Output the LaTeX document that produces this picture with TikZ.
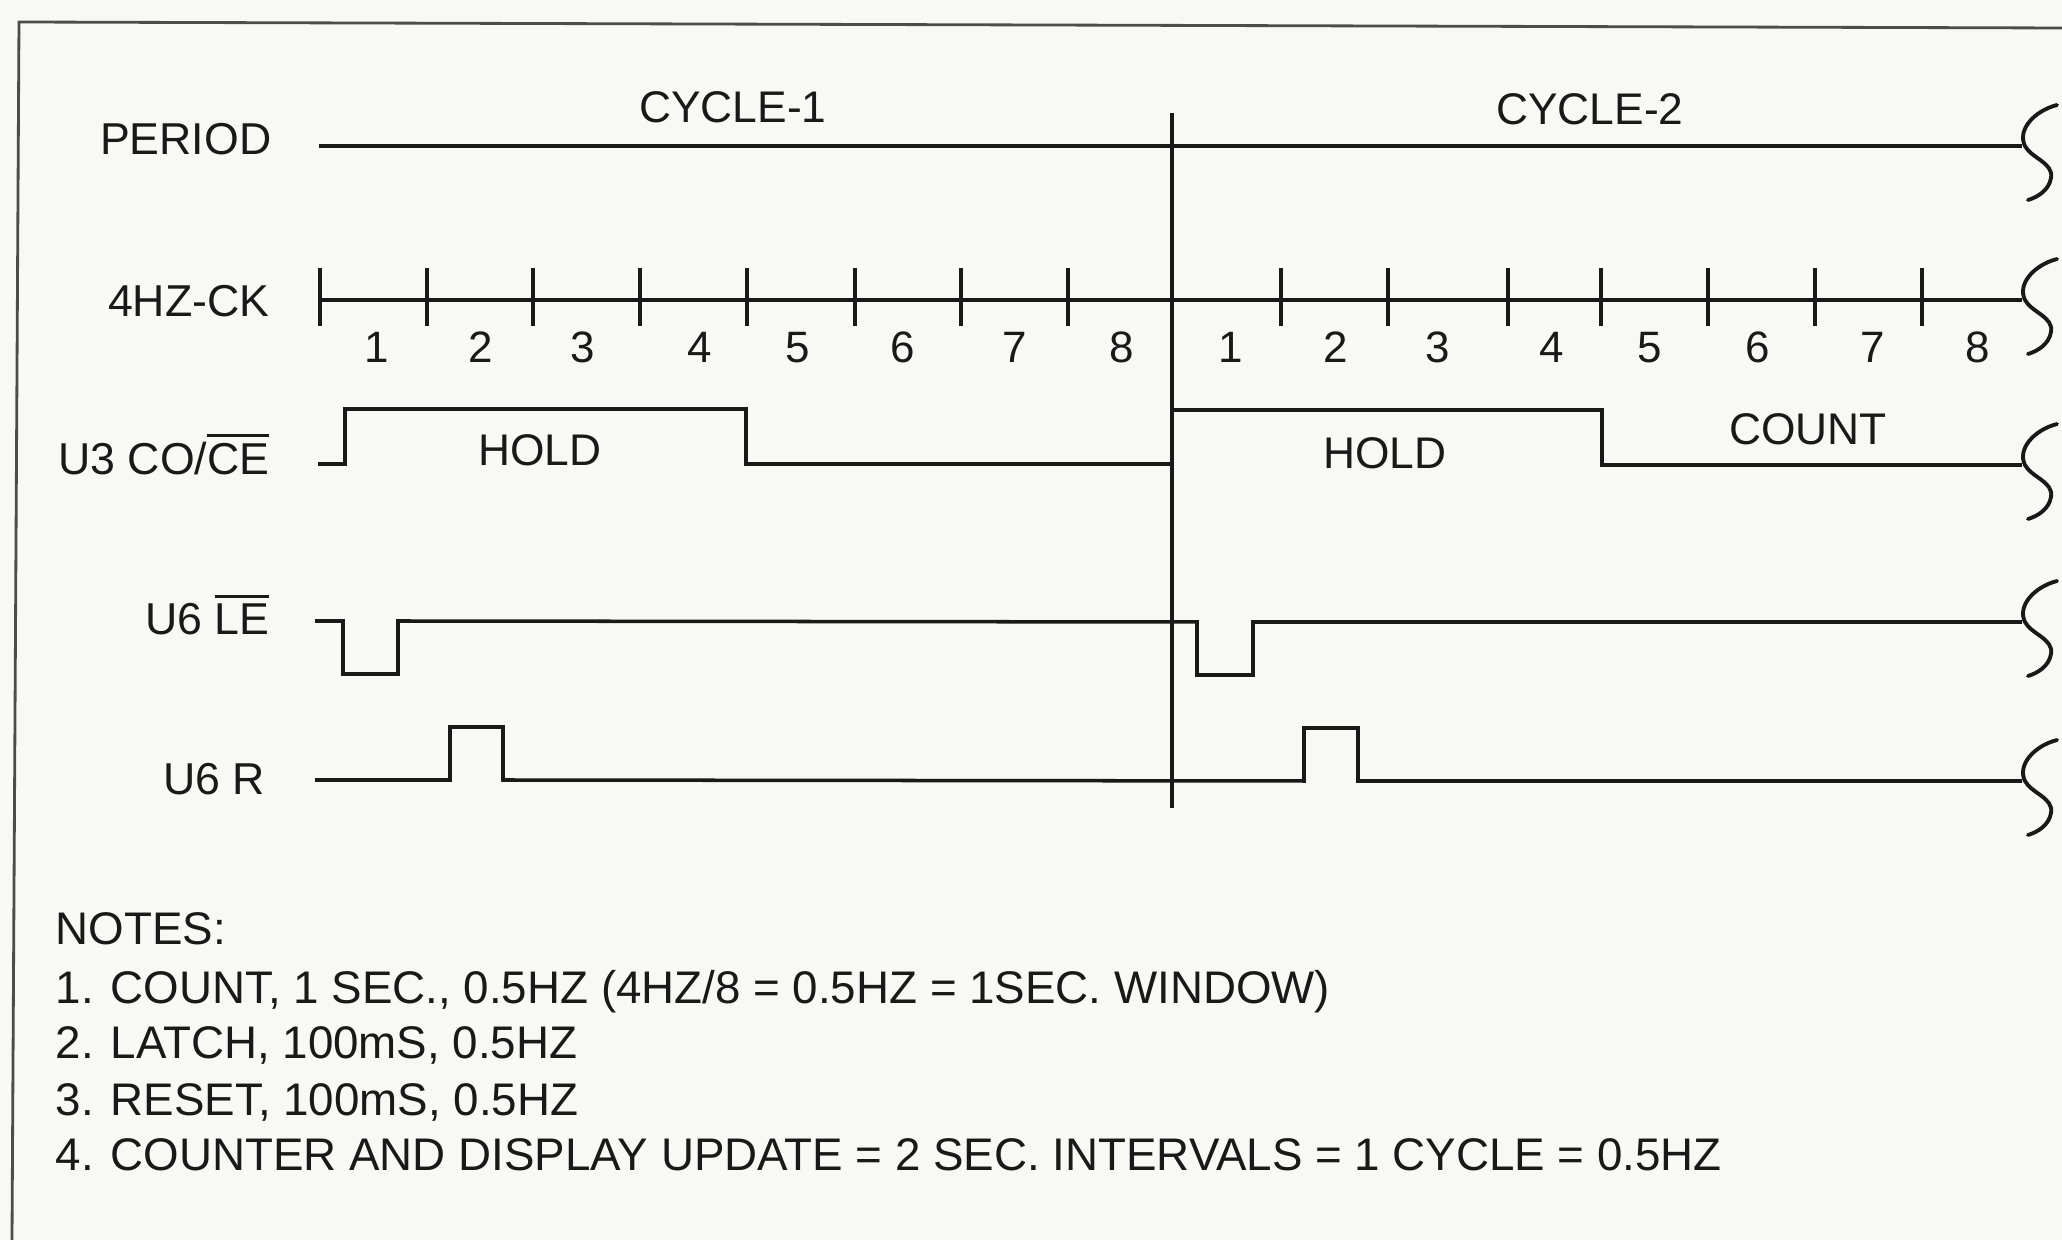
\documentclass[tikz,border=0pt]{standalone}
\usepackage{fontspec}
\setmainfont{Liberation Sans}
\newcommand\myovl[1]{\leavevmode\vbox{\hrule height 0.9pt\kern 1.8pt\hbox{#1}}}
\definecolor{bgcol}{RGB}{248,248,245}
\definecolor{inkcol}{RGB}{25,25,25}
\begin{document}
\begin{tikzpicture}[x=0.01cm,y=-0.01cm,
  lbl/.style={anchor=base east, font=\fontsize{12.7}{14}\selectfont, inner sep=0pt, text=inkcol},
  txt/.style={anchor=base, font=\fontsize{12.6}{14}\selectfont, inner sep=0pt, text=inkcol},
  num/.style={anchor=base, font=\fontsize{12.5}{14}\selectfont, inner sep=0pt, text=inkcol},
  note/.style={anchor=base west, font=\fontsize{13}{14}\selectfont, inner sep=0pt, text=inkcol},
  sig/.style={draw=inkcol, line width=1pt, line join=miter},
  brk/.pic={\draw[inkcol, line width=1.1pt, line cap=round] (35,-41) .. controls (12,-35) and (-5,-16) .. (3,0) .. controls (9,12) and (32,17) .. (29,32) .. controls (27,44) and (16,51) .. (6,54);}]
\fill[bgcol] (0,0) rectangle (2062,1240);
\useasboundingbox (0,0) rectangle (2062,1240);
% frame
\draw[gray!60!black, line width=0.8pt] (2062,28) -- (19,22) -- (12,1240);

% signal labels
\node[lbl] (lperiod) at (272,155) {PERIOD};
\node[lbl] (lck) at (270,317) {4HZ-CK};
\node[lbl] (lu3) at (270,475) {U3 CO/\myovl{CE}};
\node[lbl] (lle) at (270,635) {U6 \myovl{LE}};
\node[lbl] (lr) at (266,795) {U6 R};

% cycle labels
\node[txt] (c1) at (733,123) {CYCLE-1};
\node[txt] (c2) at (1590,125) {CYCLE-2};

% PERIOD
\draw[sig] (319,146) -- (2022,146);
% cycle divider
\draw[sig] (1172,113) -- (1172,808);

% clock
\draw[sig] (320,300) -- (2022,300);
\foreach \x in {320,427,533,640,747,855,961,1068,1281,1388,1508,1601,1708,1815,1922}
  \draw[sig] (\x,268) -- (\x,326);
\foreach \x/\n [count=\i] in {377/1,481/2,583/3,700/4,798/5,903/6,1015/7,1122/8}
  \node[num] (na\i) at (\x,363) {\n};
\foreach \x/\n [count=\i] in {1231/1,1336/2,1438/3,1552/4,1650/5,1758/6,1873/7,1978/8}
  \node[num] (nb\i) at (\x,363) {\n};

% U3 CO/CE
\draw[sig] (318,464) -- (345,464) -- (345,409) -- (746,409) -- (746,464) -- (1172,464)
  -- (1172,410) -- (1602,410) -- (1602,465) -- (2022,465);
\node[txt] (h1) at (540,466) {HOLD};
\node[txt] (h2) at (1385,469) {HOLD};
\node[txt] (cnt) at (1808,445) {COUNT};

% U6 LE
\draw[sig] (315,621) -- (343,621) -- (343,674) -- (398,674) -- (398,621) -- (1197,622)
  -- (1197,675) -- (1253,675) -- (1253,622) -- (2022,622);

% U6 R
\draw[sig] (315,780) -- (450,780) -- (450,727) -- (503,727) -- (503,780) -- (1304,781)
  -- (1304,728) -- (1358,728) -- (1358,781) -- (2022,781);

% break marks
\foreach \y in {146,300,465,622,781}
  \pic at (2022,\y) {brk};

% notes
\node[note] (n0) at (55,945) {NOTES:};
\node[note] (n1) at (55,1004) {1. COUNT, 1 SEC., 0.5HZ (4HZ/8 = 0.5HZ = 1SEC. WINDOW)};
\node[note] (n2) at (55,1059) {2. LATCH, 100mS, 0.5HZ};
\node[note] (n3) at (55,1116) {3. RESET, 100mS, 0.5HZ};
\node[note] (n4) at (55,1171) {4. COUNTER AND DISPLAY UPDATE = 2 SEC. INTERVALS = 1 CYCLE = 0.5HZ};
\end{tikzpicture}
\end{document}
